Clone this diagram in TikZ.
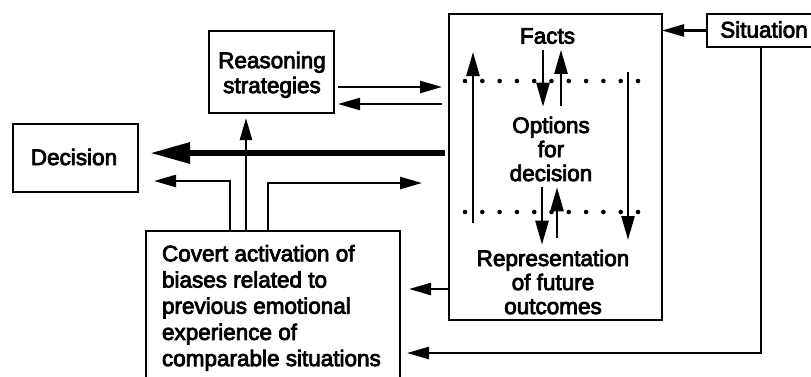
\documentclass[tikz,border=0pt]{standalone}
\usepackage{fontspec}
\setmainfont{Liberation Sans}[FakeBold=3.5]
\usetikzlibrary{arrows.meta}
\begin{document}
\begin{tikzpicture}[x=1pt,y=-1pt,
  box/.style={draw, line width=2.8pt, inner sep=0pt, outer sep=0pt},
  txt/.style={font=\fontsize{22.5}{24}\selectfont, inner sep=0pt, outer sep=0pt, align=center},
  conn/.style={line width=2.5pt, -{Triangle[length=22pt,width=12pt]}},
  vconn/.style={line width=2.5pt, -{Triangle[length=24pt,width=13pt]}},
  heavy/.style={line width=6pt, -{Triangle[length=40pt,width=20pt]}},
  dotrow/.style={line width=4.6pt, line cap=round, dash pattern=on 0pt off 17.3pt}]
\useasboundingbox (0,0) rectangle (811,376);
\fill[white] (0,0) rectangle (811,376);

% boxes
\node[box, minimum width=125pt, minimum height=82pt] (reas) at (271.5,72) {};
\node[box, minimum width=125pt, minimum height=68pt] (dec) at (75.5,158) {};
\node[box, minimum width=213pt, minimum height=306pt] (main) at (555.5,167) {};
\node[box, minimum width=130pt, minimum height=33pt] (sit) at (772,30.5) {};
\node[box, minimum width=254pt, minimum height=170pt] (cov) at (273,316) {};

% labels
\node[txt, font=\fontsize{22.5}{25}\selectfont] (reastext) at (272,74.8) {Reasoning\\strategies};
\node[txt] (dectext) at (74,157) {Decision};
\node[txt] (sittext) at (764,29.5) {Situation};
\node[txt] (facts) at (547.5,36) {Facts};
\node[txt] (opts) at (551,149) {Options\\for\\decision};
\node[txt] (repr) at (553,282) {Representation\\of future\\outcomes};
\node[txt, font=\fontsize{22.5}{26.2}\selectfont, align=left, anchor=north west] (covtext) at (162,245)
  {Covert activation of\\biases related to\\previous emotional\\experience of\\comparable situations};

% dotted separators inside the central box
\draw[dotrow] (465,81) -- (638.5,81);
\draw[dotrow] (465,212) -- (638.5,212);

% arrows inside the central box
\draw[vconn, shorten <=6pt, shorten >=10pt] (facts.south -| 543,0) -- (opts.north -| 543,0);
\draw[vconn, shorten <=11pt, shorten >=6pt] (opts.north -| 561,0) -- (facts.south -| 561,0);
\draw[vconn, shorten <=6pt, shorten >=5pt] (opts.south -| 542,0) -- (repr.north -| 542,0);
\draw[vconn, shorten <=12pt, shorten >=6pt] (repr.north -| 557,0) -- (opts.south -| 557,0);
\draw[vconn, shorten <=97pt, shorten >=38pt] (main.south -| 473,0) -- (main.north -| 473,0);
\draw[vconn, shorten <=58pt, shorten >=80pt] (main.north -| 628,0) -- (main.south -| 628,0);

% connectors between boxes
\draw[conn] (sit.west) -- (main.east |- sit.west);
\draw[conn, shorten >=7pt] (sit.south -| 761,0) |- (cov.east |- 0,353);
\draw[conn, shorten >=9pt] (main.west |- 0,289) -- (cov.east |- 0,289);
\draw[conn, shorten <=4pt, shorten >=7pt] (reas.east |- 0,87) -- (main.west |- 0,87);
\draw[conn, shorten <=7pt, shorten >=4pt] (main.west |- 0,104) -- (reas.east |- 0,104);
\draw[heavy, shorten <=4pt, shorten >=12pt] (main.west |- 0,153) -- (dec.east |- 0,153);
\draw[conn, shorten >=16pt] (cov.north -| 230,0) |- (dec.east |- 0,181);
\draw[conn, shorten >=5pt] (cov.north -| 246,0) -- (reas.south -| 246,0);
\draw[conn, shorten >=27pt] (cov.north -| 268,0) |- (main.west |- 0,183);
\end{tikzpicture}
\end{document}
